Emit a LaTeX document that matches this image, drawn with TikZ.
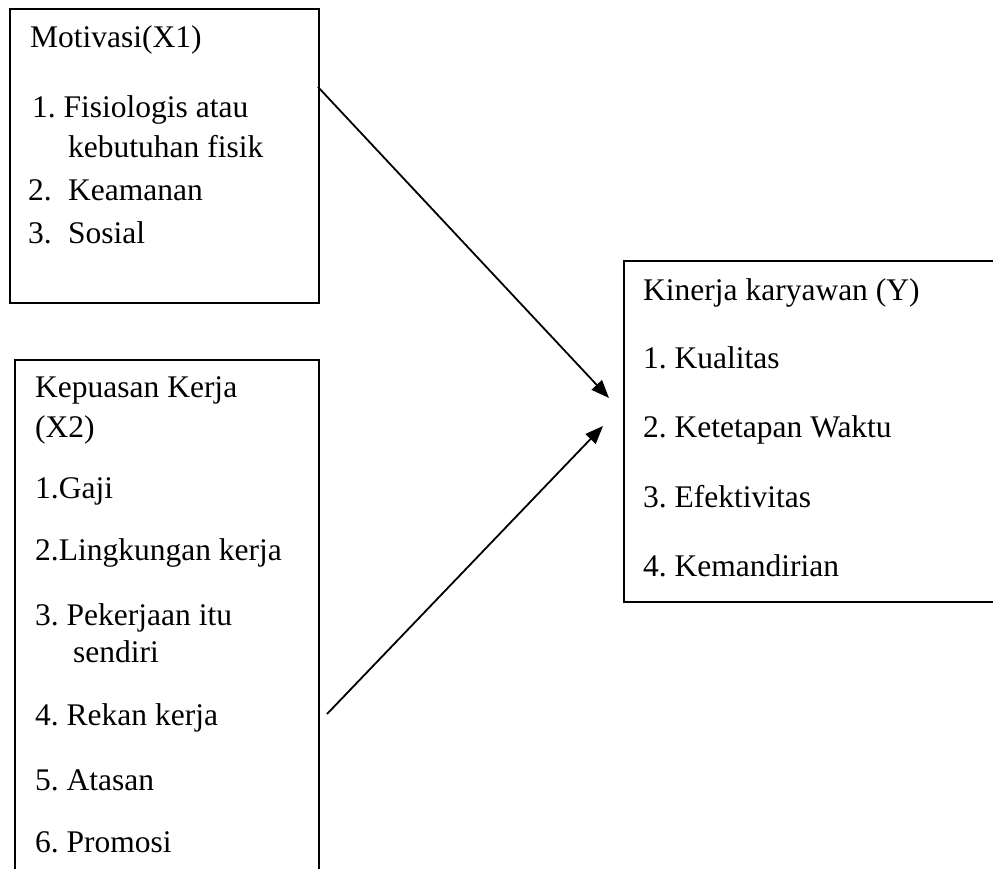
\documentclass[tikz,border=0pt]{standalone}
\usepackage{fontspec}
\setmainfont{Liberation Serif}
\usetikzlibrary{arrows.meta}
\begin{document}
\frenchspacing
\begin{tikzpicture}[x=1pt,y=-1pt,
  box/.style={draw=black, line width=1.6pt, rectangle, inner sep=0pt, anchor=north west},
  txt/.style={anchor=base west, inner sep=0pt, font=\fontsize{31.5}{38}\selectfont},
  conn/.style={line width=1.8pt, -{Triangle[length=18pt,width=14pt]}}]
\useasboundingbox (0,0) rectangle (993,868);
\clip (0,0) rectangle (993,868);
% boxes
\node[box, minimum width=309pt, minimum height=294pt] (m) at (9,8) {};
\node[box, minimum width=304pt, minimum height=560pt] (k) at (14,359) {};
\node[box, minimum width=420pt, minimum height=341pt] (y) at (623,260) {};
% box 1 text
\node[txt] (m0) at (30,47) {Motivasi(X1)};
\node[txt] (m1) at (32,117) {1. Fisiologis atau};
\node[txt] (m1b) at (68,157) {kebutuhan fisik};
\node[txt] (m2) at (28,200) {\makebox[40pt][l]{2.}Keamanan};
\node[txt] (m3) at (28,243) {\makebox[40pt][l]{3.}Sosial};
% box 2 text
\node[txt] (k0) at (35,397) {Kepuasan Kerja};
\node[txt] (k0b) at (35,437) {(X2)};
\node[txt] (k1) at (35,498) {1.Gaji};
\node[txt] (k2) at (35,560) {2.Lingkungan kerja};
\node[txt] (k3) at (35,625) {3. Pekerjaan itu};
\node[txt] (k3b) at (73,662) {sendiri};
\node[txt] (k4) at (35,725) {4. Rekan kerja};
\node[txt] (k5) at (35,790) {5. Atasan};
\node[txt] (k6) at (35,852) {6. Promosi};
% right box text
\node[txt] (y0) at (643,300) {Kinerja karyawan (Y)};
\node[txt] (y1) at (643,368) {1. Kualitas};
\node[txt] (y2) at (643,437) {2. Ketetapan Waktu};
\node[txt] (y3) at (643,507) {3. Efektivitas};
\node[txt] (y4) at (643,576) {4. Kemandirian};
% connectors
\coordinate (a1s) at (318,87);
\coordinate (a1e) at (609,398);
\coordinate (a2s) at (327,714);
\coordinate (a2e) at (603,426);
\draw[conn] (a1s) -- (a1e);
\draw[conn] (a2s) -- (a2e);
\end{tikzpicture}
\end{document}
